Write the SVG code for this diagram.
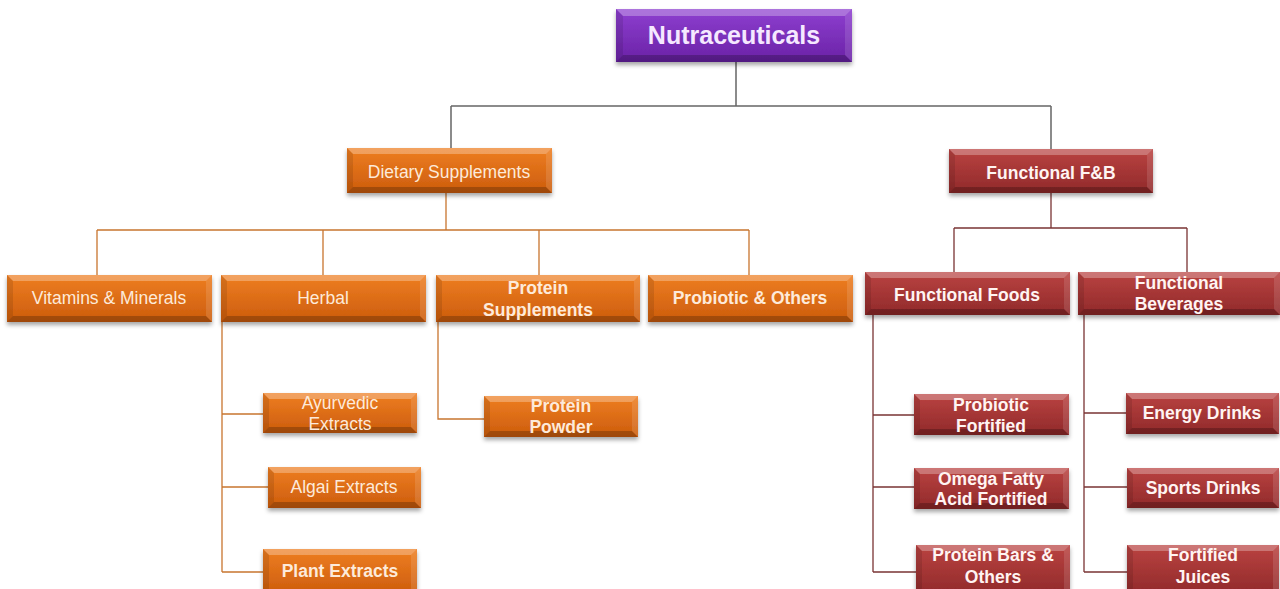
<svg xmlns="http://www.w3.org/2000/svg" width="1280" height="589" viewBox="0 0 1280 589">
<defs>
<linearGradient id="gO" x1="0" y1="0" x2="0" y2="1"><stop offset="0" stop-color="#EE7E22"/><stop offset="1" stop-color="#CC5C0C"/></linearGradient>
<linearGradient id="gR" x1="0" y1="0" x2="0" y2="1"><stop offset="0" stop-color="#BA4341"/><stop offset="1" stop-color="#90292A"/></linearGradient>
<linearGradient id="gP" x1="0" y1="0" x2="0" y2="1"><stop offset="0" stop-color="#8E3FD0"/><stop offset="1" stop-color="#6A22A6"/></linearGradient>
<filter id="sh" x="-10%" y="-20%" width="120%" height="160%"><feDropShadow dx="0" dy="3" stdDeviation="2" flood-color="#000" flood-opacity="0.35"/></filter>
</defs>
<style>
text{font-family:"Liberation Sans",Arial,sans-serif;font-size:17.5px;text-anchor:middle}
.b{font-weight:bold}
.to{fill:#FDEADA}
.tr{fill:#FFF4F2}
.hl{fill:#fff;opacity:0.28}
.hr{fill:#fff;opacity:0.12}
.dk{fill:#000;opacity:0.22}
.dl{fill:#000;opacity:0.1}
.lg{stroke:#666;stroke-width:1.5;fill:none}
.lo{stroke:#C8752F;stroke-width:1.3;fill:none}
.lr{stroke:#7A3434;stroke-width:1.3;fill:none}
</style>
<rect width="1280" height="589" fill="#fff"/>
<g id="connectors">
<path class="lg" d="M736 62V106M451 106H1051M451 106V148M1051 106V149"/>
<path class="lo" d="M446 193V230M97 230H749M97 230V275M323 230V275M539 230V275M749 230V275"/>
<path class="lo" d="M222 322V572M222 414H263M222 487H268M222 572H263"/>
<path class="lo" d="M438 322V419H484"/>
<path class="lr" d="M1051 193V228M954 228H1187M954 228V272M1187 228V272"/>
<path class="lr" d="M873 315V572M873 415H914M873 487H914M873 572H916"/>
<path class="lr" d="M1084 315V572M1084 413H1126M1084 487H1127M1084 572H1127"/>
</g>
<g id="nutraceuticals" transform="translate(616,9)">
<rect width="236" height="53" fill="url(#gP)" filter="url(#sh)"/>
<path class="hl" d="M0 0H236l-7 7H7z"/><path class="dk" d="M0 53H236l-7 -7H7z"/><path class="dl" d="M0 0l7 7V46L0 53z"/><path class="hr" d="M236 0l-7 7V46l7 7z"/>
<text class="b" x="118" y="35" style="font-size:25px;fill:#F5E8FF">Nutraceuticals</text>
</g>
<g id="dietary" transform="translate(347,148)">
<rect width="205" height="45" fill="url(#gO)" filter="url(#sh)"/>
<path class="hl" d="M0 0H205l-6 6H6z"/><path class="dk" d="M0 45H205l-6 -6H6z"/><path class="dl" d="M0 0l6 6V39L0 45z"/><path class="hr" d="M205 0l-6 6V39l6 6z"/>
<text class="to" x="102" y="30">Dietary Supplements</text>
</g>
<g id="fnb" transform="translate(949,149)">
<rect width="204" height="44" fill="url(#gR)" filter="url(#sh)"/>
<path class="hl" d="M0 0H204l-6 6H6z"/><path class="dk" d="M0 44H204l-6 -6H6z"/><path class="dl" d="M0 0l6 6V38L0 44z"/><path class="hr" d="M204 0l-6 6V38l6 6z"/>
<text class="b tr" x="102" y="30">Functional F&amp;B</text>
</g>
<g id="vitamins" transform="translate(7,275)">
<rect width="205" height="47" fill="url(#gO)" filter="url(#sh)"/>
<path class="hl" d="M0 0H205l-6 6H6z"/><path class="dk" d="M0 47H205l-6 -6H6z"/><path class="dl" d="M0 0l6 6V41L0 47z"/><path class="hr" d="M205 0l-6 6V41l6 6z"/>
<text class="to" x="102" y="29">Vitamins &amp; Minerals</text>
</g>
<g id="herbal" transform="translate(221,275)">
<rect width="205" height="47" fill="url(#gO)" filter="url(#sh)"/>
<path class="hl" d="M0 0H205l-6 6H6z"/><path class="dk" d="M0 47H205l-6 -6H6z"/><path class="dl" d="M0 0l6 6V41L0 47z"/><path class="hr" d="M205 0l-6 6V41l6 6z"/>
<text class="to" x="102" y="29">Herbal</text>
</g>
<g id="protein-supplements" transform="translate(436,275)">
<rect width="204" height="47" fill="url(#gO)" filter="url(#sh)"/>
<path class="hl" d="M0 0H204l-6 6H6z"/><path class="dk" d="M0 47H204l-6 -6H6z"/><path class="dl" d="M0 0l6 6V41L0 47z"/><path class="hr" d="M204 0l-6 6V41l6 6z"/>
<text class="b to" x="102" y="19">Protein</text><text class="b to" x="102" y="41">Supplements</text>
</g>
<g id="probiotic-others" transform="translate(648,275)">
<rect width="205" height="47" fill="url(#gO)" filter="url(#sh)"/>
<path class="hl" d="M0 0H205l-6 6H6z"/><path class="dk" d="M0 47H205l-6 -6H6z"/><path class="dl" d="M0 0l6 6V41L0 47z"/><path class="hr" d="M205 0l-6 6V41l6 6z"/>
<text class="b to" x="102" y="29">Probiotic &amp; Others</text>
</g>
<g id="functional-foods" transform="translate(865,272)">
<rect width="205" height="43" fill="url(#gR)" filter="url(#sh)"/>
<path class="hl" d="M0 0H205l-6 6H6z"/><path class="dk" d="M0 43H205l-6 -6H6z"/><path class="dl" d="M0 0l6 6V37L0 43z"/><path class="hr" d="M205 0l-6 6V37l6 6z"/>
<text class="b tr" x="102" y="29">Functional Foods</text>
</g>
<g id="functional-beverages" transform="translate(1078,272)">
<rect width="202" height="43" fill="url(#gR)" filter="url(#sh)"/>
<path class="hl" d="M0 0H202l-6 6H6z"/><path class="dk" d="M0 43H202l-6 -6H6z"/><path class="dl" d="M0 0l6 6V37L0 43z"/><path class="hr" d="M202 0l-6 6V37l6 6z"/>
<text class="b tr" x="101" y="17">Functional</text><text class="b tr" x="101" y="38">Beverages</text>
</g>
<g id="ayurvedic" transform="translate(263,393)">
<rect width="154" height="40" fill="url(#gO)" filter="url(#sh)"/>
<path class="hl" d="M0 0H154l-6 6H6z"/><path class="dk" d="M0 40H154l-6 -6H6z"/><path class="dl" d="M0 0l6 6V34L0 40z"/><path class="hr" d="M154 0l-6 6V34l6 6z"/>
<text class="to" x="77" y="16">Ayurvedic</text><text class="to" x="77" y="37">Extracts</text>
</g>
<g id="algai" transform="translate(268,467)">
<rect width="153" height="41" fill="url(#gO)" filter="url(#sh)"/>
<path class="hl" d="M0 0H153l-6 6H6z"/><path class="dk" d="M0 41H153l-6 -6H6z"/><path class="dl" d="M0 0l6 6V35L0 41z"/><path class="hr" d="M153 0l-6 6V35l6 6z"/>
<text class="to" x="76" y="26">Algai Extracts</text>
</g>
<g id="plant" transform="translate(263,549)">
<rect width="154" height="46" fill="url(#gO)" filter="url(#sh)"/>
<path class="hl" d="M0 0H154l-6 6H6z"/><path class="dl" d="M0 0l6 6V46L0 46z"/><path class="hr" d="M154 0l-6 6V46l6 0z"/>
<text class="b to" x="77" y="28">Plant Extracts</text>
</g>
<g id="protein-powder" transform="translate(484,396)">
<rect width="154" height="41" fill="url(#gO)" filter="url(#sh)"/>
<path class="hl" d="M0 0H154l-6 6H6z"/><path class="dk" d="M0 41H154l-6 -6H6z"/><path class="dl" d="M0 0l6 6V35L0 41z"/><path class="hr" d="M154 0l-6 6V35l6 6z"/>
<text class="b to" x="77" y="16">Protein</text><text class="b to" x="77" y="37">Powder</text>
</g>
<g id="probiotic-fortified" transform="translate(914,394)">
<rect width="155" height="41" fill="url(#gR)" filter="url(#sh)"/>
<path class="hl" d="M0 0H155l-6 6H6z"/><path class="dk" d="M0 41H155l-6 -6H6z"/><path class="dl" d="M0 0l6 6V35L0 41z"/><path class="hr" d="M155 0l-6 6V35l6 6z"/>
<text class="b tr" x="77" y="17">Probiotic</text><text class="b tr" x="77" y="38">Fortified</text>
</g>
<g id="omega" transform="translate(914,468)">
<rect width="155" height="41" fill="url(#gR)" filter="url(#sh)"/>
<path class="hl" d="M0 0H155l-6 6H6z"/><path class="dk" d="M0 41H155l-6 -6H6z"/><path class="dl" d="M0 0l6 6V35L0 41z"/><path class="hr" d="M155 0l-6 6V35l6 6z"/>
<text class="b tr" x="77" y="17">Omega Fatty</text><text class="b tr" x="77" y="37">Acid Fortified</text>
</g>
<g id="protein-bars" transform="translate(916,545)">
<rect width="154" height="50" fill="url(#gR)" filter="url(#sh)"/>
<path class="hl" d="M0 0H154l-6 6H6z"/><path class="dl" d="M0 0l6 6V50L0 50z"/><path class="hr" d="M154 0l-6 6V50l6 0z"/>
<text class="b tr" x="77" y="16">Protein Bars &amp;</text><text class="b tr" x="77" y="38">Others</text>
</g>
<g id="energy" transform="translate(1126,393)">
<rect width="153" height="41" fill="url(#gR)" filter="url(#sh)"/>
<path class="hl" d="M0 0H153l-6 6H6z"/><path class="dk" d="M0 41H153l-6 -6H6z"/><path class="dl" d="M0 0l6 6V35L0 41z"/><path class="hr" d="M153 0l-6 6V35l6 6z"/>
<text class="b tr" x="76" y="26">Energy Drinks</text>
</g>
<g id="sports" transform="translate(1127,468)">
<rect width="152" height="40" fill="url(#gR)" filter="url(#sh)"/>
<path class="hl" d="M0 0H152l-6 6H6z"/><path class="dk" d="M0 40H152l-6 -6H6z"/><path class="dl" d="M0 0l6 6V34L0 40z"/><path class="hr" d="M152 0l-6 6V34l6 6z"/>
<text class="b tr" x="76" y="26">Sports Drinks</text>
</g>
<g id="fortified-juices" transform="translate(1127,545)">
<rect width="152" height="50" fill="url(#gR)" filter="url(#sh)"/>
<path class="hl" d="M0 0H152l-6 6H6z"/><path class="dl" d="M0 0l6 6V50L0 50z"/><path class="hr" d="M152 0l-6 6V50l6 0z"/>
<text class="b tr" x="76" y="16">Fortified</text><text class="b tr" x="76" y="38">Juices</text>
</g>
</svg>
